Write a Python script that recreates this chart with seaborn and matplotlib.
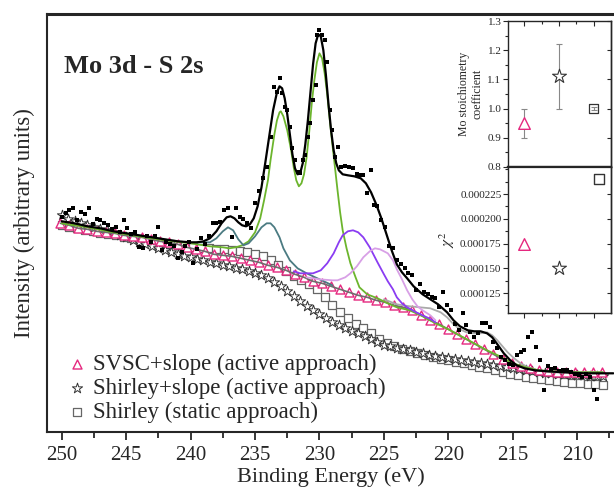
import numpy as np
import pandas as pd
import seaborn as sns
import matplotlib.pyplot as plt
from matplotlib.ticker import MultipleLocator, FormatStrFormatter

# ---------------- measured points (black squares) ----------------
data_E = [250.0, 249.7, 249.4, 249.1, 248.8, 248.5, 248.2, 247.9, 247.6, 247.3,
          247.0, 246.7, 246.4, 246.1, 245.8, 245.5, 245.2, 244.9, 244.6, 244.3,
          244.0, 243.7, 243.4, 243.1, 242.8, 242.5, 242.2, 241.9, 241.6, 241.3,
          241.0, 240.7, 240.4, 240.1, 239.8, 239.5, 239.2, 238.9, 238.6, 238.3,
          238.0, 237.7, 237.4, 237.1, 236.8, 236.5, 236.2, 235.9, 235.6, 235.3,
          235.0, 234.7, 234.4, 234.1, 233.8, 233.5, 233.3, 233.1, 232.9, 232.7,
          232.5, 232.3, 232.1, 231.9, 231.7, 231.5, 231.3, 231.1, 230.9, 230.7,
          230.5, 230.3, 230.2, 230.0, 229.8, 229.6, 229.4, 229.2, 229.0, 228.8,
          228.6, 228.3, 228.0, 227.7, 227.4, 227.1, 226.9, 226.6, 226.3, 226.0,
          225.8, 225.5, 225.2, 224.9, 224.6, 224.3, 224.0, 223.7, 223.4, 223.1,
          222.8, 222.5, 222.2, 221.9, 221.6, 221.3, 221.0, 220.7, 220.4, 220.1,
          219.8, 219.5, 219.2, 218.9, 218.6, 218.3, 218.0, 217.7, 217.4, 217.1,
          216.8, 216.5, 216.2, 215.9, 215.6, 215.3, 215.0, 214.7, 214.4, 214.1,
          213.8, 213.5, 213.2, 212.9, 212.6, 212.3, 212.0, 211.7, 211.4, 211.1,
          210.8, 210.5, 210.2, 209.9, 209.6, 209.3, 209.0, 208.7, 208.5]
data_I = [215, 219, 222, 224, 212, 220, 218, 224, 208, 213,
          212, 209, 207, 203, 205, 200, 212, 204, 198, 200,
          185, 184, 196, 190, 196, 205, 182, 190, 188, 186,
          174, 180, 186, 190, 169, 183, 194, 188, 196, 209,
          209, 210, 222, 224, 195, 224, 215, 213, 209, 204,
          229, 241, 254, 265, 295, 345, 340, 354, 339, 325,
          322, 305, 284, 272, 260, 259, 272, 277, 295, 309,
          332, 347, 397, 402, 397, 392, 370, 322, 302, 275,
          285, 265, 266, 265, 264, 258, 257, 257, 239, 262,
          227, 226, 212, 205, 186, 184, 172, 168, 164, 159,
          157, 142, 148, 140, 138, 135, 134, 125, 140, 127,
          122, 108, 102, 119, 107, 100, 95, 99, 109, 109,
          105, 90, 84, 75, 72, 68, 67, 77, 80, 82,
          95, 100, 85, 72, 42, 66, 63, 64, 61, 62,
          62, 60, 58, 57, 55, 58, 55, 42, 33]

# ---------------- fit envelope ----------------
env_E = [250.0, 249.0, 248.0, 247.0, 246.0, 245.0, 244.0, 243.0, 242.0, 241.0,
         240.0, 239.5, 239.0, 238.5, 238.0, 237.6, 237.2, 236.9, 236.6, 236.3,
         236.0, 235.7, 235.4, 235.1, 234.8, 234.5, 234.2, 233.9, 233.6, 233.3,
         233.1, 232.9, 232.7, 232.5, 232.3, 232.1, 231.9, 231.7, 231.5, 231.3,
         231.1, 230.9, 230.7, 230.5, 230.3, 230.1, 229.9, 229.7, 229.5, 229.3,
         229.1, 228.9, 228.7, 228.5, 228.2, 227.8, 227.3, 226.8, 226.4, 226.0,
         225.6, 225.2, 224.8, 224.4, 224.0, 223.6, 223.2, 222.7, 222.0, 221.4,
         220.8, 220.1, 219.6, 219.1, 218.5, 218.0, 217.5, 217.0, 216.6, 216.2,
         215.7, 215.2, 214.7, 214.1, 213.3, 212.3, 211.0, 209.5, 208.0, 207.2]
env_I = [211, 209, 206, 204, 201, 199, 197, 195, 193, 191,
         190, 190, 191, 194, 201, 209, 215, 216, 214, 210,
         207, 206, 208, 214, 226, 245, 270, 296, 322, 340,
         346, 344, 334, 318, 298, 278, 264, 258, 259, 269,
         288, 312, 340, 368, 389, 398, 396, 382, 357, 328,
         302, 282, 269, 262, 258, 257, 256, 254, 249, 240,
         228, 214, 198, 182, 168, 160, 154, 146, 138, 133,
         128, 120, 112, 106, 102, 101, 101, 99, 95, 88,
         79, 72, 67, 64, 62, 61, 60, 59, 59, 59]

# ---------------- fit components ----------------
green_E = [250.0, 248.0, 246.0, 244.0, 242.0, 240.0, 238.5, 237.5, 237.0, 236.5,
           236.0, 235.5, 235.0, 234.6, 234.3, 234.0, 233.8, 233.5, 233.3, 233.1,
           233.0, 232.8, 232.5, 232.2, 232.0, 231.8, 231.6, 231.4, 231.2, 231.0,
           230.8, 230.6, 230.4, 230.2, 230.0, 229.8, 229.6, 229.4, 229.2, 229.0,
           228.8, 228.6, 228.4, 228.2, 227.9, 227.6, 227.2, 226.9, 226.3, 225.5,
           224.7, 224.0, 223.0, 222.0, 221.0, 220.0, 219.0, 218.0, 217.0, 216.0,
           215.0, 214.0, 213.0, 212.0, 210.0, 208.0]
green_I = [209, 205, 200, 196, 192, 189, 186, 185, 184, 185,
           187, 191, 200, 214, 232, 252, 272, 298, 312, 320,
           321, 316, 302, 282, 265, 252, 246, 249, 258, 275,
           300, 329, 352, 370, 379, 374, 359, 338, 312, 288,
           265, 242, 220, 202, 184, 169, 155, 145, 138, 134,
           129, 125, 122, 116, 109, 103, 96, 89, 82, 76,
           69, 65, 62, 61, 60, 60]

teal_E = [239.5, 238.5, 238.0, 237.5, 237.1, 236.7, 236.3, 235.9, 235.5, 235.0,
          234.5, 234.1, 233.8, 233.5, 233.1, 232.8, 232.3, 231.7, 231.0, 230.0,
          229.0]
teal_I = [190, 190, 194, 201, 205, 202, 193, 187, 189, 196,
          205, 209, 209, 205, 195, 184, 172, 164, 159, 153,
          147]

purple_E = [232.0, 231.5, 230.5, 229.9, 229.4, 228.9, 228.5, 228.2, 227.8, 227.4,
            227.0, 226.6, 226.1, 225.5, 225.0, 224.7, 224.3, 224.0, 223.6, 223.2,
            222.5, 221.5, 221.0]
purple_I = [161, 159, 159, 162, 169, 179, 190, 197, 201, 202,
            200, 195, 185, 170, 158, 151, 143, 135, 129, 125,
            120, 114, 110]

plum_E = [231.0, 230.0, 229.0, 228.6, 228.0, 227.6, 227.1, 226.6, 226.1, 225.7,
          225.3, 224.7, 224.3, 224.0, 223.6, 223.2, 222.8, 222.4, 222.0, 221.4,
          221.0]
plum_I = [155, 153, 152, 152, 155, 159, 166, 175, 181, 184,
          183, 179, 172, 163, 153, 142, 133, 126, 122, 117,
          112]

grey_E = [225.0, 224.0, 223.0, 222.2, 221.4, 220.6, 220.1, 219.6, 219.1, 218.6,
          218.1, 217.5, 217.0, 216.6, 216.2, 215.8, 215.4, 214.9, 214.4, 213.8,
          213.1, 212.0, 210.0, 208.0]
grey_I = [133, 128, 126, 125, 124, 120, 115, 108, 103, 100,
          99, 99, 100, 97, 92, 86, 80, 74, 69, 65,
          62, 60, 60, 60]

# ---------------- backgrounds ----------------
svsc_E = [250.1, 249.4, 248.7, 248.0, 247.3, 246.6, 245.9, 245.2, 244.5, 243.8,
          243.1, 242.4, 241.7, 241.0, 240.3, 239.6, 238.9, 238.2, 237.5, 236.8,
          236.1, 235.4, 234.7, 234.0, 233.3, 232.6, 231.9, 231.2, 230.5, 229.8,
          229.1, 228.4, 227.7, 227.0, 226.3, 225.6, 224.9, 224.2, 223.5, 222.8,
          222.1, 221.4, 220.7, 220.0, 219.3, 218.6, 217.9, 217.2, 216.5, 215.8,
          215.1, 214.4, 213.7, 213.0, 212.3, 211.6, 210.9, 210.2, 209.5, 208.8,
          208.1]
svsc_I = [209, 207, 204, 203, 201, 200, 199, 197, 196, 195,
          193, 191, 190, 188, 185, 183, 181, 178, 177, 176,
          174, 172, 170, 167, 165, 162, 158, 155, 151, 149,
          146, 143, 140, 137, 135, 132, 130, 127, 125, 122,
          117, 112, 108, 103, 98, 93, 88, 83, 78, 73,
          69, 66, 64, 62, 61, 60, 60, 60, 60, 60,
          60]

shirley_E = [250.0, 249.4, 248.8, 248.2, 247.6, 247.0, 246.4, 245.8, 245.2, 244.6,
             244.0, 243.4, 242.8, 242.2, 241.6, 241.0, 240.4, 239.8, 239.2, 238.6,
             238.0, 237.4, 236.8, 236.2, 235.6, 235.0, 234.4, 233.8, 233.2, 232.6,
             232.0, 231.4, 230.8, 230.2, 229.6, 229.0, 228.4, 227.8, 227.2, 226.6,
             226.0, 225.4, 224.8, 224.2, 223.6, 223.0, 222.4, 221.8, 221.2, 220.6,
             220.0, 219.4, 218.8, 218.2, 217.6, 217.0, 216.4, 215.8, 215.2, 214.6,
             214.0, 213.4, 212.8, 212.2, 211.6, 211.0, 210.4, 209.8, 209.2, 208.6,
             208.0]
shirley_I = [207, 205, 204, 202, 201, 199, 198, 197, 195, 194,
             193, 191, 190, 189, 188, 187, 186, 185, 184, 184,
             183, 183, 182, 181, 180, 178, 176, 172, 167, 161,
             156, 152, 148, 143, 135, 127, 120, 114, 108, 104,
             99, 93, 89, 86, 83, 81, 79, 77, 75, 73,
             72, 70, 69, 67, 65, 64, 62, 60, 58, 57,
             55, 54, 53, 52, 51, 50, 49, 49, 48, 48,
             47]

shslope_E = [250.0, 249.5, 249.0, 248.5, 248.0, 247.5, 247.0, 246.5, 246.0, 245.5,
             245.0, 244.5, 244.0, 243.5, 243.0, 242.5, 242.0, 241.5, 241.0, 240.5,
             240.0, 239.5, 239.0, 238.5, 238.0, 237.5, 237.0, 236.5, 236.0, 235.5,
             235.0, 234.5, 234.0, 233.5, 233.0, 232.5, 232.0, 231.5, 231.0, 230.5,
             230.0, 229.5, 229.0, 228.5, 228.0, 227.5, 227.0, 226.5, 226.0, 225.5,
             225.0, 224.5, 224.0, 223.5, 223.0, 222.5, 222.0, 221.5, 221.0, 220.5,
             220.0, 219.5, 219.0, 218.5, 218.0, 217.5, 217.0, 216.5, 216.0, 215.5,
             215.0, 214.5, 214.0, 213.5, 213.0, 212.5, 212.0, 211.5, 211.0, 210.5,
             210.0, 209.5, 209.0, 208.5, 208.0]
shslope_I = [217, 213, 211, 209, 207, 205, 203, 202, 200, 197,
             195, 192, 190, 188, 186, 184, 182, 180, 178, 176,
             175, 173, 172, 170, 169, 167, 166, 164, 163, 161,
             159, 157, 154, 150, 146, 141, 136, 131, 126, 122,
             118, 114, 110, 107, 104, 101, 99, 96, 93, 90,
             87, 86, 84, 83, 82, 80, 79, 77, 76, 75,
             74, 73, 72, 71, 70, 69, 68, 67, 66, 65,
             64, 63, 62, 61, 60, 59, 59, 58, 58, 57,
             57, 57, 56, 56, 56]

# ---------------- inset values ----------------
inset_x = [1, 2, 3]
stoich = [0.95, 1.11, 1.00]
stoich_err = [0.05, 0.11, 0.005]
chi2_x = [1, 2, 3.15]
chi2 = [0.000175, 0.000150, 0.000240]
chi2_ticks = [0.000125, 0.000150, 0.000175, 0.000200, 0.000225]

labels = ['SVSC+slope (active approach)',
          'Shirley+slope (active approach)',
          'Shirley (static approach)']

pink = '#e5287f'
star_c = '#333333'
sq_c = '#666666'

sns.set_style('ticks')
plt.rcParams['font.family'] = ['Liberation Serif', 'DejaVu Serif']
plt.rcParams['mathtext.fontset'] = 'stix'

fig = plt.figure(figsize=(6.14, 4.93), dpi=100)
ax = fig.add_axes([0.0770, 0.1231, 0.923, 0.8495])

sns.scatterplot(x=shirley_E, y=shirley_I, ax=ax, marker='s', s=30, color='white',
                edgecolor=sq_c, linewidth=0.9, label=labels[2], zorder=2)
sns.scatterplot(x=shslope_E, y=shslope_I, ax=ax, marker='*', s=60, color='white',
                edgecolor=star_c, linewidth=0.7, label=labels[1], zorder=3)
sns.scatterplot(x=svsc_E, y=svsc_I, ax=ax, marker='^', s=42, color='white',
                edgecolor=pink, linewidth=1.0, label=labels[0], zorder=4)
sns.lineplot(x=svsc_E, y=svsc_I, ax=ax, color='#6e6e6e', lw=1.2, sort=False,
             estimator=None, zorder=5)

sns.lineplot(x=grey_E, y=grey_I, ax=ax, color='#aaaaaa', lw=1.3, sort=False, estimator=None, zorder=5)
sns.lineplot(x=green_E, y=green_I, ax=ax, color='#6cb52d', lw=1.3, sort=False, estimator=None, zorder=6)
sns.lineplot(x=teal_E, y=teal_I, ax=ax, color='#4b7b82', lw=1.3, sort=False, estimator=None, zorder=6)
sns.lineplot(x=purple_E, y=purple_I, ax=ax, color='#8a3cf2', lw=1.3, sort=False, estimator=None, zorder=6)
sns.lineplot(x=plum_E, y=plum_I, ax=ax, color='#d8a0e6', lw=1.3, sort=False, estimator=None, zorder=6)
sns.lineplot(x=env_E, y=env_I, ax=ax, color='black', lw=1.6, sort=False, estimator=None, zorder=7)
sns.scatterplot(x=data_E, y=data_I, ax=ax, marker='s', s=8, color='black',
                linewidth=0, zorder=8)

ax.set_xlim(251.12, 207.15)
ax.set_ylim(0, 418.8)
ax.set_yticks([])
ax.xaxis.set_major_locator(MultipleLocator(5))
ax.xaxis.set_minor_locator(MultipleLocator(2.5))
ax.tick_params(axis='x', which='major', direction='out', length=6, width=1.3, labelsize=15)
ax.tick_params(axis='x', which='minor', direction='out', length=4, width=1.3)
ax.spines['right'].set_visible(False)
ax.spines['top'].set_linewidth(2.2)
ax.spines['left'].set_linewidth(1.5)
ax.spines['bottom'].set_linewidth(1.5)
ax.set_xlabel('Binding Energy (eV)', fontsize=16, labelpad=2)
ax.set_ylabel('Intensity (arbitrary units)', fontsize=16.5, labelpad=9)
ax.text(0.029, 0.874, 'Mo 3d - S 2s', transform=ax.transAxes, fontsize=19,
        fontweight='bold', va='center')

h, l = ax.get_legend_handles_labels()
order = [l.index(t) for t in labels]
ax.legend([h[i] for i in order], [l[i] for i in order], loc='lower left',
          bbox_to_anchor=(0.0, -0.016), frameon=False, fontsize=16.5,
          handletextpad=0.1, labelspacing=0.12, handlelength=1.2, borderaxespad=0.3)

# ---------------- insets ----------------
ax1 = fig.add_axes([0.8269, 0.6613, 0.1678, 0.2961])
ax2 = fig.add_axes([0.8269, 0.3651, 0.1678, 0.2961])
for a in (ax1, ax2):
    a.set_facecolor('white')
    a.set_xlim(0.52, 3.49)
    for s in a.spines.values():
        s.set_linewidth(1.0)
    a.xaxis.set_major_locator(MultipleLocator(1))
    a.xaxis.set_minor_locator(MultipleLocator(0.5))
    a.tick_params(which='both', labelsize=8, width=0.8)
    a.tick_params(which='major', length=3.5)
    a.tick_params(which='minor', length=2)
    a.set_xticklabels([])
ax1.spines['bottom'].set_linewidth(1.6)
ax2.spines['top'].set_linewidth(1.6)

ax1.errorbar(inset_x, stoich, yerr=stoich_err, fmt='none', ecolor='#888888',
             elinewidth=0.8, capsize=2, capthick=0.8, zorder=2)
sns.scatterplot(x=inset_x[:1], y=stoich[:1], ax=ax1, marker='^', s=70, color='white',
                edgecolor=pink, linewidth=1.0, zorder=3)
sns.scatterplot(x=inset_x[1:2], y=stoich[1:2], ax=ax1, marker='*', s=110, color='white',
                edgecolor=star_c, linewidth=0.8, zorder=3)
sns.scatterplot(x=inset_x[2:], y=stoich[2:], ax=ax1, marker='s', s=40, color='none',
                edgecolor='#333333', linewidth=0.9, zorder=3)
ax1.set_ylim(0.8, 1.3)
ax1.yaxis.set_major_locator(MultipleLocator(0.1))
ax1.yaxis.set_minor_locator(MultipleLocator(0.05))
ax1.yaxis.set_major_formatter(FormatStrFormatter('%.1f'))
ax1.tick_params(axis='x', which='both', direction='in', top=True, bottom=False)
ax1.tick_params(axis='y', which='both', direction='out', pad=1)
ax1.set_ylabel('Mo stoichiometry\ncoefficient', fontsize=8.5, labelpad=3, linespacing=1.1)

sns.scatterplot(x=chi2_x[:1], y=chi2[:1], ax=ax2, marker='^', s=70, color='white',
                edgecolor=pink, linewidth=1.0, zorder=3)
sns.scatterplot(x=chi2_x[1:2], y=chi2[1:2], ax=ax2, marker='*', s=110, color='white',
                edgecolor=star_c, linewidth=0.8, zorder=3)
sns.scatterplot(x=chi2_x[2:], y=chi2[2:], ax=ax2, marker='s', s=50, color='white',
                edgecolor='#333333', linewidth=1.0, zorder=3)
ax2.set_ylim(0.0001048, 0.0002523)
ax2.set_yticks(chi2_ticks)
ax2.yaxis.set_minor_locator(MultipleLocator(0.0000125))
ax2.yaxis.set_major_formatter(FormatStrFormatter('%.6f'))
ax2.tick_params(axis='x', which='both', direction='out')
ax2.tick_params(axis='y', which='both', direction='out', pad=1)
ax2.set_ylabel(r'$\chi^2$', fontsize=11, labelpad=2)

for a in (ax1, ax2):
    sec = a.secondary_yaxis('right')
    sec.set_yticks(a.get_yticks())
    sec.tick_params(direction='in', labelright=False, length=3, width=0.8)
    sec.spines['right'].set_linewidth(1.0)

fig.savefig('out.png', dpi=100)
